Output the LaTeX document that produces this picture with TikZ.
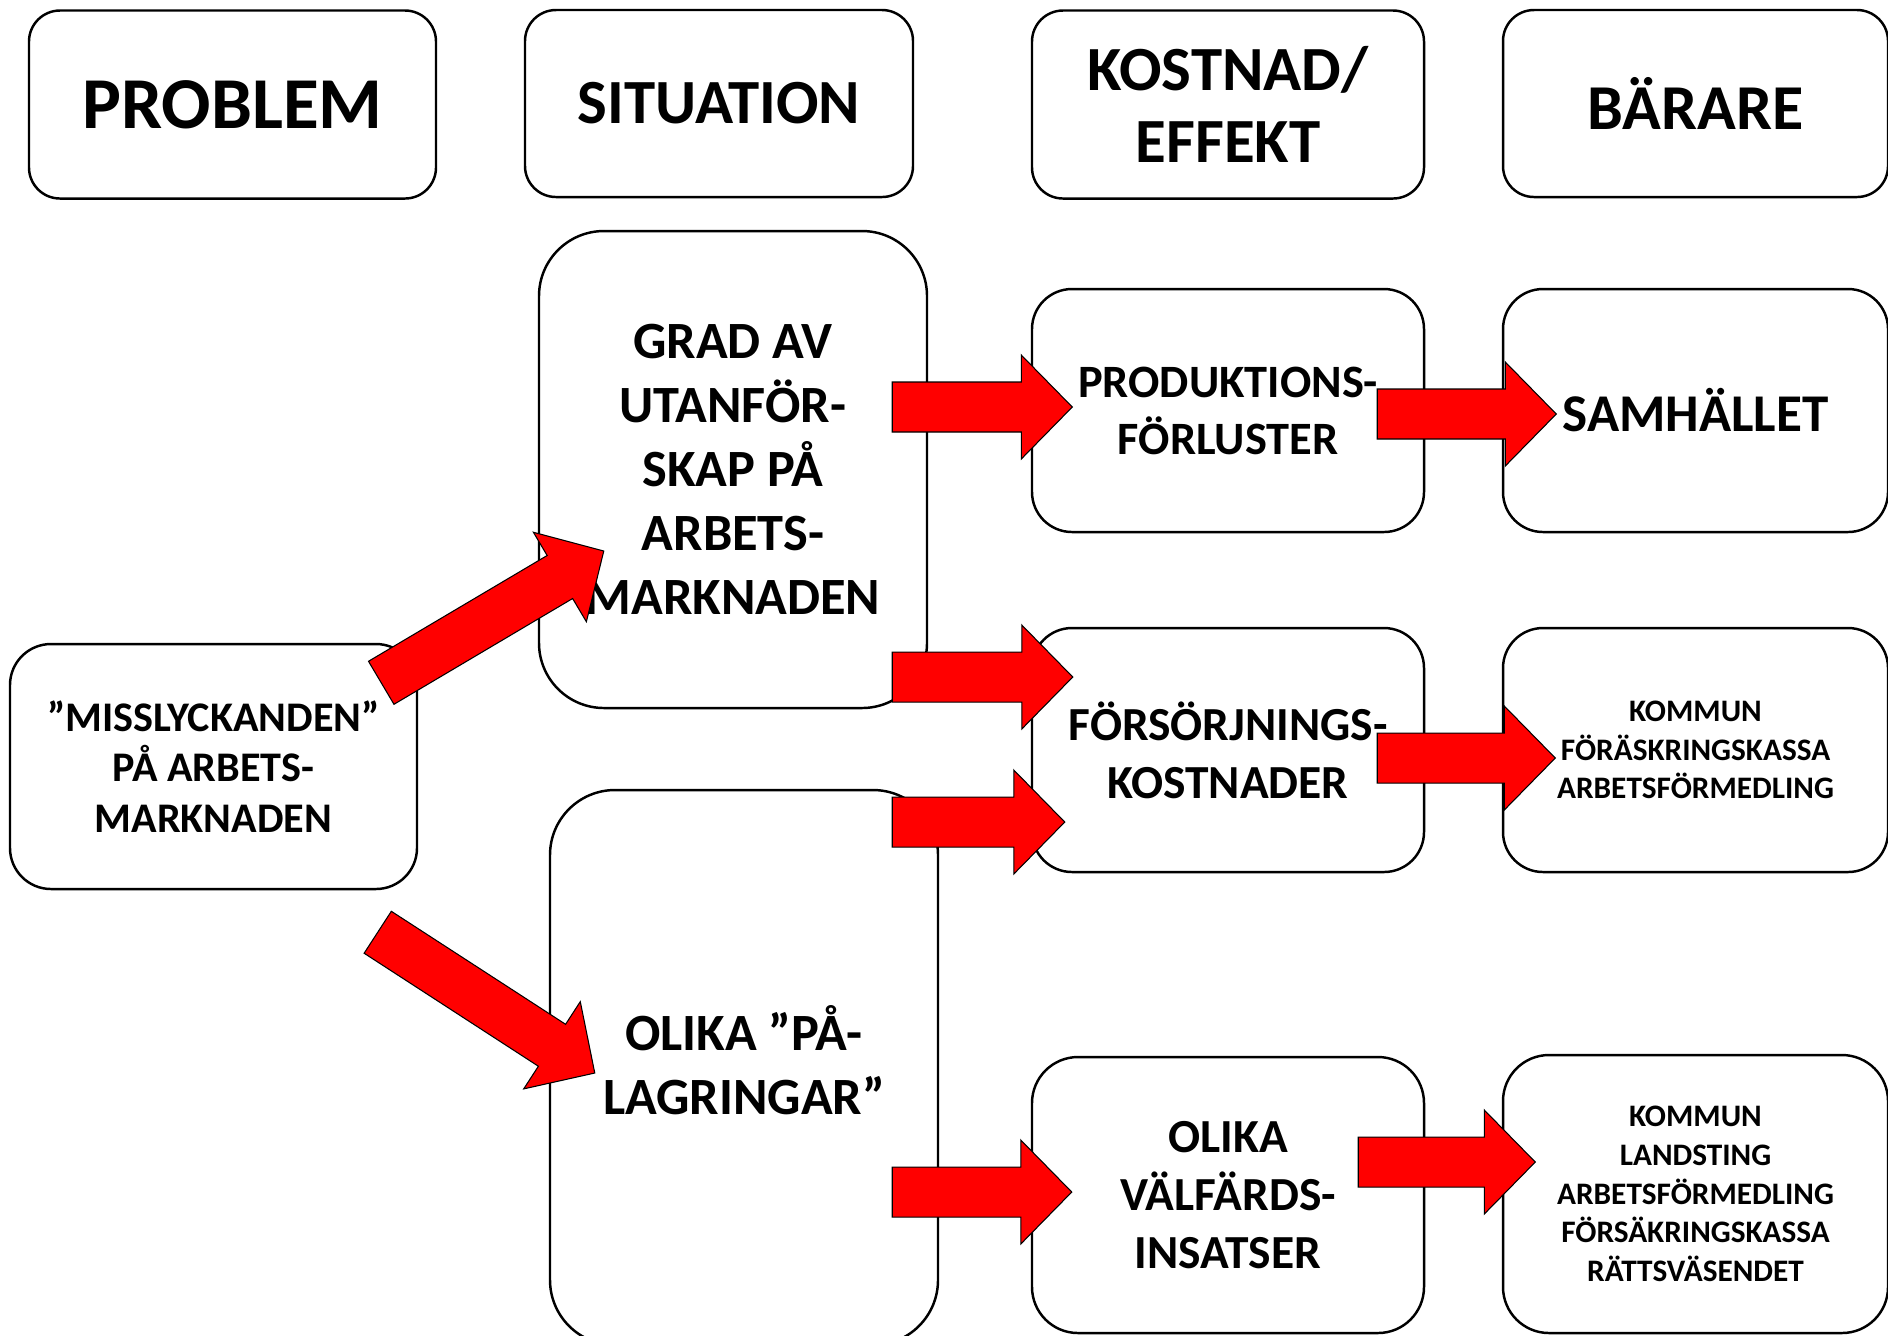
\documentclass[tikz,border=0pt]{standalone}
\usepackage{fontspec}
\setmainfont{Carlito}
\usetikzlibrary{calc}

\definecolor{arrowred}{RGB}{255,0,0}

\begin{document}
\begin{tikzpicture}[
        box/.style={
            draw,
            line width=0.7pt,
            rounded corners=0.4cm,
            align=center,
            inner sep=0pt
        },
        header/.style={
            box,
            minimum height=1.88cm,
            rounded corners=0.31cm,
            font=\fontsize{17.9}{20.5}\selectfont\bfseries
        },
        tallbox/.style={
            box,
            minimum width=3.88cm,
            rounded corners=0.65cm,
            font=\fontsize{14.9}{18.2}\selectfont\bfseries
        },
        costbox/.style={
            box,
            minimum width=3.92cm,
            minimum height=2.44cm,
            font=\fontsize{13.5}{16.5}\selectfont\bfseries
        },
        carrierbox/.style={
            box,
            minimum width=3.85cm,
            minimum height=2.44cm,
            font=\fontsize{8.9}{11}\selectfont\bfseries
        },
        fatarrow/.style={
            fill=arrowred,
            draw=black,
            line width=0.3pt,
            to path={
                ($(\tikztostart)!0.25cm!90:(\tikztotarget)$)
                -- ($(\tikztotarget)!0.51cm!(\tikztostart)!0.25cm!-90:(\tikztostart)$)
                -- ($(\tikztotarget)!0.51cm!(\tikztostart)!0.52cm!-90:(\tikztostart)$)
                -- (\tikztotarget)
                -- ($(\tikztotarget)!0.51cm!(\tikztostart)!0.52cm!90:(\tikztostart)$)
                -- ($(\tikztotarget)!0.51cm!(\tikztostart)!0.25cm!90:(\tikztostart)$)
                -- ($(\tikztostart)!0.25cm!-90:(\tikztotarget)$)
                -- cycle
            }
        }
    ]

        \useasboundingbox (0,0) rectangle (18.88,-13.35);

        % ---------------------------------------------------------------------
        % Column headers
        % ---------------------------------------------------------------------

        \node[
            header,
            minimum width=4.07cm,
            font=\fontsize{20.8}{24}\selectfont\bfseries
        ] (hproblem) at (2.325,-1.045) {PROBLEM};

        \node[
            header,
            minimum width=3.88cm,
            minimum height=1.87cm
        ] (hsituation) at (7.19,-1.035) {SITUATION};

        \node[
            header,
            minimum width=3.92cm
        ] (hkostnad) at (12.28,-1.045) {KOSTNAD/\\EFFEKT};

        \node[
            header,
            minimum width=3.85cm,
            minimum height=1.87cm,
            font=\fontsize{18.2}{20.5}\selectfont\bfseries
        ] (hbarare) at (16.955,-1.035) {BÄRARE};

        % ---------------------------------------------------------------------
        % Problem and situations
        % ---------------------------------------------------------------------

        \node[
            box,
            minimum width=4.07cm,
            minimum height=2.45cm,
            rounded corners=0.41cm,
            font=\fontsize{12}{14.4}\selectfont\bfseries
        ] (miss) at (2.135,-7.665) {”MISSLYCKANDEN”\\PÅ ARBETS-\\MARKNADEN};

        \node[
            tallbox,
            minimum height=4.77cm
        ] (grad) at (7.33,-4.695) {GRAD AV\\UTANFÖR-\\SKAP PÅ\\ARBETS-\\MARKNADEN};

        \node[
            tallbox,
            minimum height=5.55cm,
            text depth=0.15cm
        ] (pal) at (7.44,-10.675) {OLIKA ”PÅ-\\LAGRINGAR”};

        % ---------------------------------------------------------------------
        % Costs and carriers
        % ---------------------------------------------------------------------

        \node[
            costbox,
            minimum height=2.43cm,
            font=\fontsize{13.2}{16.2}\selectfont\bfseries
        ] (prod) at (12.28,-4.105) {PRODUKTIONS-\\FÖRLUSTER};

        \node[
            carrierbox,
            minimum height=2.43cm,
            font=\fontsize{15.1}{18}\selectfont\bfseries
        ] (samh) at (16.955,-4.105) {SAMHÄLLET};

        \node[costbox] (fors) at (12.28,-7.50) {FÖRSÖRJNINGS-\\KOSTNADER};

        \node[carrierbox] (kom1) at (16.955,-7.50) {KOMMUN\\FÖRÄSKRINGSKASSA\\ARBETSFÖRMEDLING};

        \node[
            costbox,
            minimum height=2.76cm,
            rounded corners=0.46cm
        ] (valf) at (12.28,-11.95) {OLIKA\\VÄLFÄRDS-\\INSATSER};

        \node[
            carrierbox,
            minimum height=2.78cm,
            rounded corners=0.46cm
        ] (kom2) at (16.955,-11.94) {KOMMUN\\LANDSTING\\ARBETSFÖRMEDLING\\FÖRSÄKRINGSKASSA\\RÄTTSVÄSENDET};

        % ---------------------------------------------------------------------
        % Arrow ends
        % ---------------------------------------------------------------------

        \coordinate (a1s) at ($(miss.north east)+(-0.37,-0.40)$);
        \coordinate (a1t) at ($(grad.west)+(0.66,-0.815)$);
        \coordinate (a2s) at ($(miss.south east)+(-0.405,-0.42)$);
        \coordinate (a2t) at ($(pal.west)+(0.46,-0.055)$);

        \coordinate (h1s) at ($(grad.east)+(-0.36,0.625)$);
        \coordinate (h1t) at ($(prod.west)+(0.415,0.035)$);
        \coordinate (h2s) at ($(grad.east)+(-0.36,-2.075)$);
        \coordinate (h2t) at ($(fors.west)+(0.42,0.73)$);
        \coordinate (h3s) at ($(pal.east)+(-0.47,2.455)$);
        \coordinate (h3t) at ($(fors.west)+(0.34,-0.72)$);
        \coordinate (h4s) at ($(pal.east)+(-0.47,-1.245)$);
        \coordinate (h4t) at ($(valf.west)+(0.41,0.03)$);

        \coordinate (h5s) at ($(prod.east)+(-0.48,-0.035)$);
        \coordinate (h5t) at ($(samh.west)+(0.545,-0.035)$);
        \coordinate (h6s) at ($(fors.east)+(-0.48,-0.08)$);
        \coordinate (h6t) at ($(kom1.west)+(0.535,-0.08)$);
        \coordinate (h7s) at ($(valf.east)+(-0.67,0.33)$);
        \coordinate (h7t) at ($(kom2.west)+(0.335,0.32)$);

        % ---------------------------------------------------------------------
        % Block arrows
        % ---------------------------------------------------------------------

        \draw[fatarrow] (a1s) to (a1t);
        \draw[fatarrow] (a2s) to (a2t);

        \draw[fatarrow] (h1s) to (h1t);
        \draw[fatarrow] (h2s) to (h2t);
        \draw[fatarrow] (h3s) to (h3t);
        \draw[fatarrow] (h4s) to (h4t);

        \draw[fatarrow] (h5s) to (h5t);
        \draw[fatarrow] (h6s) to (h6t);
        \draw[fatarrow] (h7s) to (h7t);

    \end{tikzpicture}
\end{document}
